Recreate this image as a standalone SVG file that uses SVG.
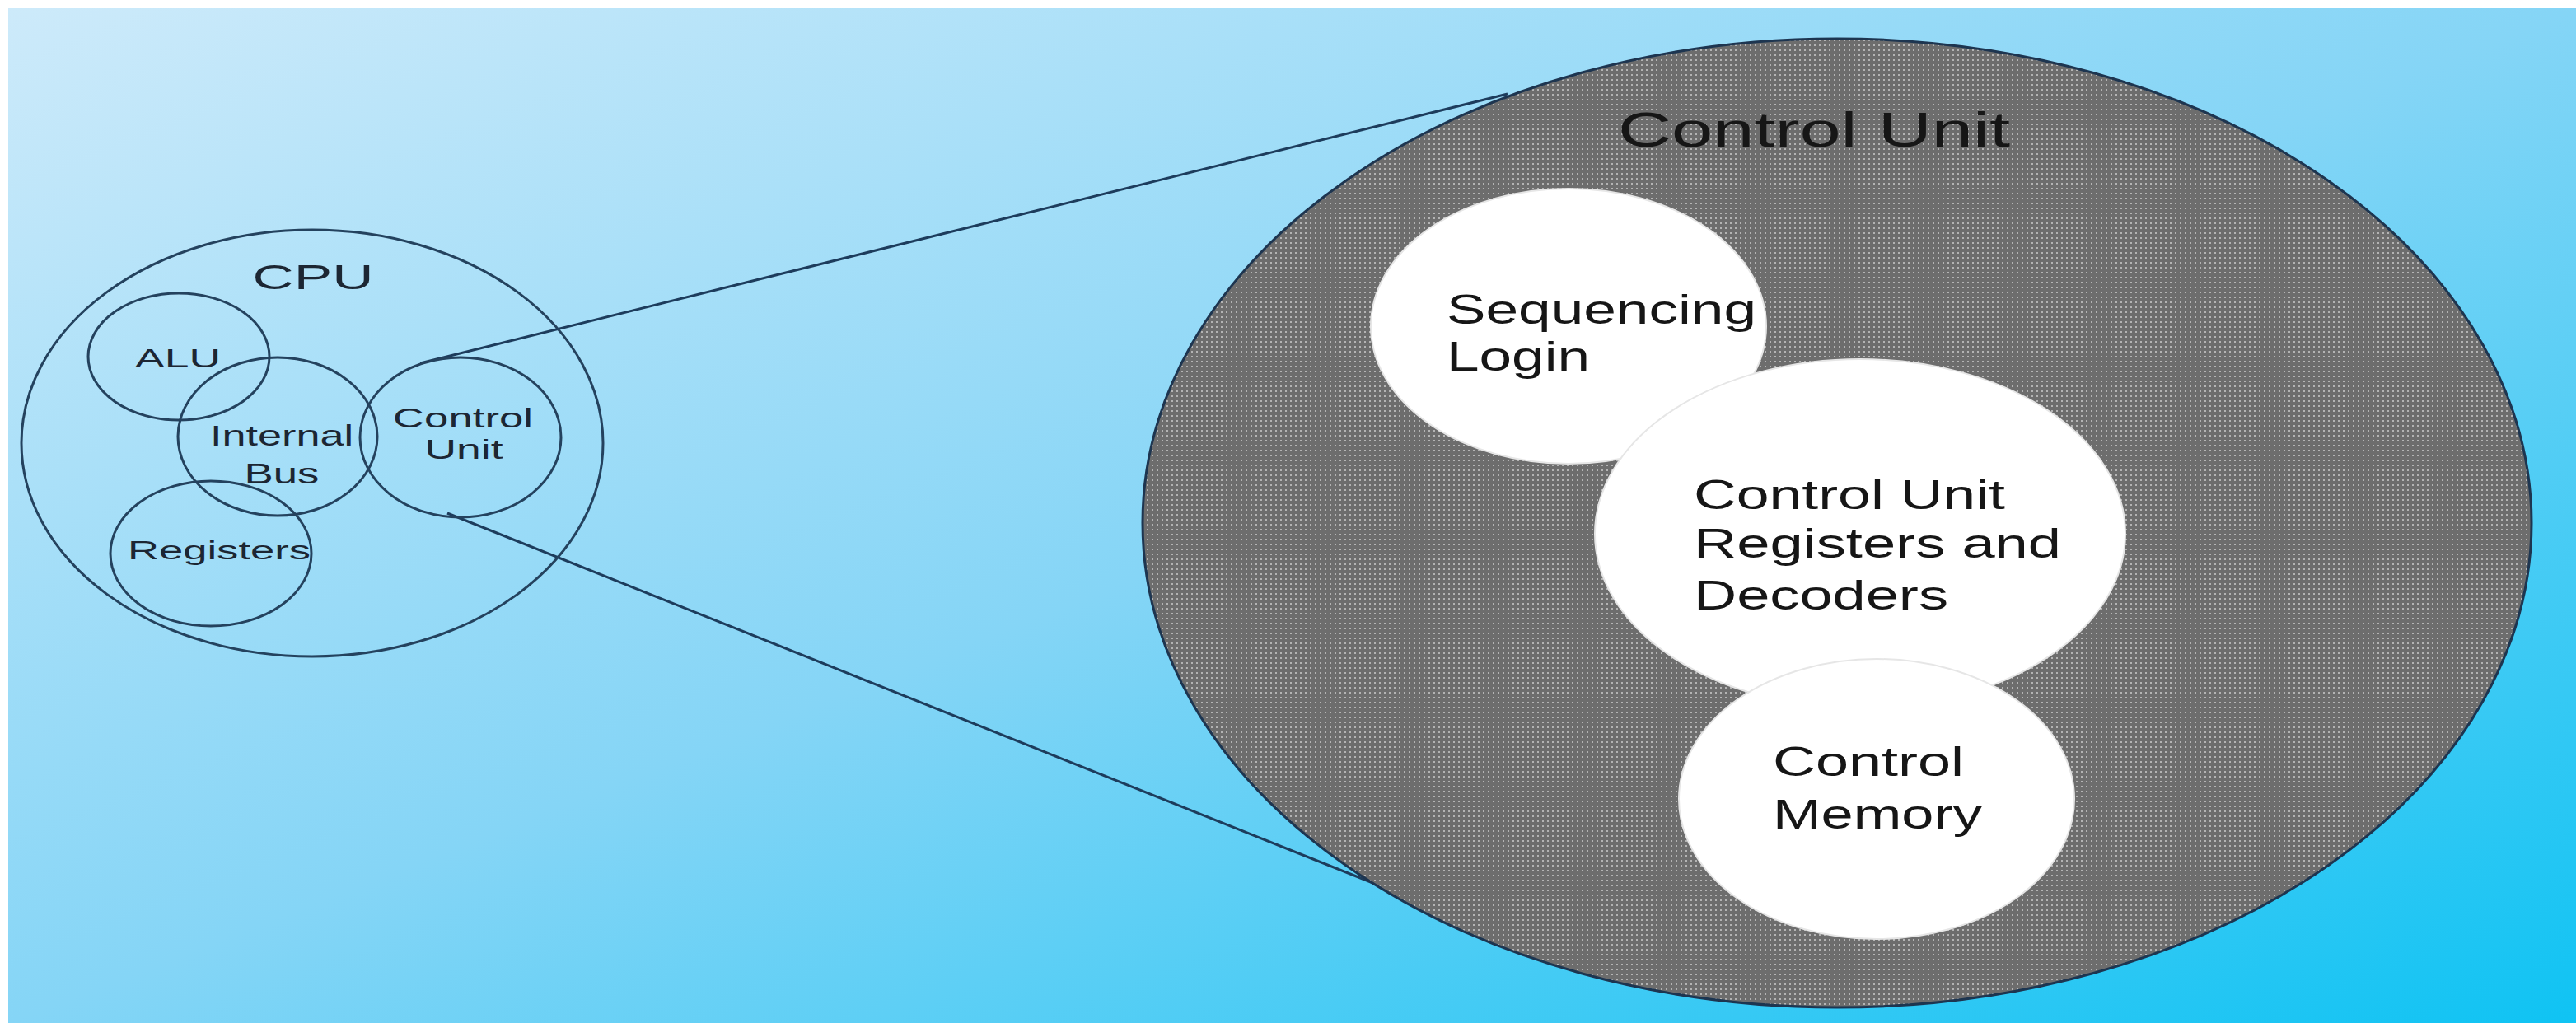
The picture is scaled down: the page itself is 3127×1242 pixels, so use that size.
<svg xmlns="http://www.w3.org/2000/svg" width="3127" height="1242" viewBox="0 0 3127 1242">
<defs>
<linearGradient id="bg" x1="0" y1="0" x2="1" y2="1">
<stop offset="0" stop-color="#cdeafa"/>
<stop offset="0.5" stop-color="#85d5f6"/>
<stop offset="1" stop-color="#0fc3f3"/>
</linearGradient>
<pattern id="dots" width="6" height="6" patternUnits="userSpaceOnUse">
<rect width="6" height="6" fill="#6d6d6d"/>
<rect width="2" height="2" fill="#b4b4b4"/>
</pattern>
<style>
.thin{fill:none;stroke:#24425e;stroke-width:3}
.conn{fill:none;stroke:#1d3c5c;stroke-width:3}
.sm{font-family:"Liberation Sans",Arial,sans-serif;fill:#1c2633}
.lg{font-family:"Liberation Sans",Arial,sans-serif;fill:#161616}
.big{fill:url(#dots);stroke:#1d3550;stroke-width:3}
.white{fill:#ffffff;stroke:#e6e6e6;stroke-width:2}
</style>
</defs>
<rect width="3127" height="1242" fill="#ffffff"/>
<rect x="10" y="10" width="3117" height="1232" fill="url(#bg)"/>

<g id="connectors">
<line class="conn" x1="510" y1="441" x2="1830" y2="114"/>
<line class="conn" x1="543" y1="623" x2="1689" y2="1081"/>
</g>

<g id="cpu">
<ellipse class="thin" cx="379" cy="538" rx="353" ry="259"/>
<text class="sm" x="380" y="351" font-size="42" text-anchor="middle" textLength="147" lengthAdjust="spacingAndGlyphs">CPU</text>
</g>
<g id="alu">
<ellipse class="thin" cx="217" cy="433" rx="110" ry="77"/>
<text class="sm" x="216" y="446" font-size="31" text-anchor="middle" textLength="104" lengthAdjust="spacingAndGlyphs">ALU</text>
</g>
<g id="internal-bus">
<ellipse class="thin" cx="337" cy="530" rx="121" ry="96"/>
<text class="sm" x="342" y="541" font-size="35" text-anchor="middle" textLength="174" lengthAdjust="spacingAndGlyphs">Internal</text>
<text class="sm" x="342" y="587" font-size="35" text-anchor="middle" textLength="91" lengthAdjust="spacingAndGlyphs">Bus</text>
</g>
<g id="control-unit-small">
<ellipse class="thin" cx="559" cy="531" rx="122" ry="97"/>
<text class="sm" x="562" y="519" font-size="33" text-anchor="middle" textLength="170" lengthAdjust="spacingAndGlyphs">Control</text>
<text class="sm" x="563" y="557" font-size="33" text-anchor="middle" textLength="95" lengthAdjust="spacingAndGlyphs">Unit</text>
</g>
<g id="registers">
<ellipse class="thin" cx="256" cy="672" rx="122" ry="88"/>
<text class="sm" x="266" y="679" font-size="31" text-anchor="middle" textLength="222" lengthAdjust="spacingAndGlyphs">Registers</text>
</g>

<g id="control-unit">
<ellipse class="big" cx="2230" cy="635" rx="843" ry="588"/>
<text class="lg" x="2202" y="178" font-size="60" text-anchor="middle" textLength="476" lengthAdjust="spacingAndGlyphs">Control Unit</text>
</g>
<g id="sequencing-login">
<ellipse class="white" cx="1904" cy="396" rx="240" ry="167"/>
<text class="lg" x="1756" y="393" font-size="50" textLength="376" lengthAdjust="spacingAndGlyphs">Sequencing</text>
<text class="lg" x="1756" y="450" font-size="50" textLength="174" lengthAdjust="spacingAndGlyphs">Login</text>
</g>
<g id="registers-decoders">
<ellipse class="white" cx="2258" cy="648" rx="322" ry="212"/>
<text class="lg" x="2056" y="618" font-size="50" textLength="378" lengthAdjust="spacingAndGlyphs">Control Unit</text>
<text class="lg" x="2056" y="677" font-size="50" textLength="446" lengthAdjust="spacingAndGlyphs">Registers and</text>
<text class="lg" x="2056" y="740" font-size="50" textLength="309" lengthAdjust="spacingAndGlyphs">Decoders</text>
</g>
<g id="control-memory">
<ellipse class="white" cx="2278" cy="970" rx="240" ry="170"/>
<text class="lg" x="2152" y="942" font-size="50" textLength="232" lengthAdjust="spacingAndGlyphs">Control</text>
<text class="lg" x="2152" y="1006" font-size="50" textLength="254" lengthAdjust="spacingAndGlyphs">Memory</text>
</g>
</svg>
